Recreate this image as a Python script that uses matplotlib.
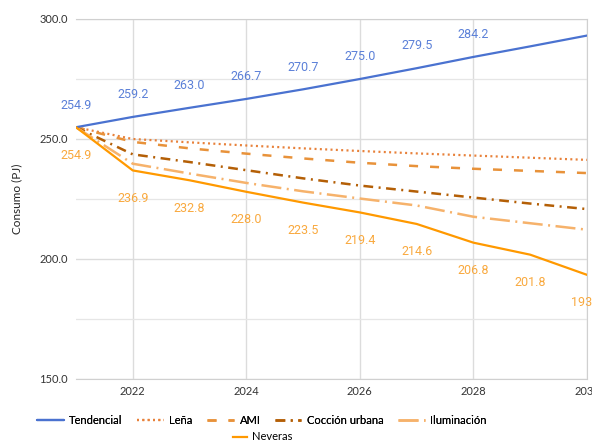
import matplotlib
matplotlib.use("Agg")
import matplotlib.pyplot as plt

years = [2021, 2022, 2023, 2024, 2025, 2026, 2027, 2028, 2029, 2030]
tendencial = [254.9, 259.2, 263.0, 266.7, 270.7, 275.0, 279.5, 284.2, 288.6, 293.1]
lena = [254.9, 250.0, 248.6, 247.3, 246.1, 245.0, 244.0, 243.1, 242.2, 241.3]
ami = [254.9, 248.8, 246.1, 243.9, 241.9, 240.1, 238.7, 237.6, 236.7, 235.8]
coccion = [254.9, 243.6, 240.4, 237.0, 233.6, 230.6, 228.1, 225.6, 223.1, 220.8]
iluminacion = [254.9, 239.7, 235.6, 231.7, 228.2, 225.2, 222.3, 217.6, 214.9, 212.2]
neveras = [254.9, 236.9, 232.8, 228.0, 223.5, 219.4, 214.6, 206.8, 201.8, 193.4]
tendencial_labels = ["254.9", "259.2", "263.0", "266.7", "270.7", "275.0", "279.5", "284.2"]
neveras_labels = ["254.9", "236.9", "232.8", "228.0", "223.5", "219.4", "214.6", "206.8", "201.8", "193.4"]
xticks = [2022, 2024, 2026, 2028, 2030]
yticks = [150, 200, 250, 300]

fig = plt.figure(figsize=(5.92, 4.43), dpi=100)
ax = fig.add_axes([76/592, 1-379/443, (587-76)/592, (379-19)/443])

c_tend = "#4a72d0"
c_lena = "#e8813a"
c_ami = "#e8923a"
c_coc = "#b45f06"
c_ilu = "#f6b26b"
c_nev = "#ff9900"

l_tend, = ax.plot(years, tendencial, color=c_tend, lw=1.6, solid_capstyle="round", label="Tendencial", zorder=5)
l_lena, = ax.plot(years, lena, color=c_lena, lw=1.6, dashes=(0.9, 1.5), label="Leña", zorder=4)
l_ami, = ax.plot(years, ami, color=c_ami, lw=1.8, dashes=(3.6, 4.8), label="AMI", zorder=4)
l_coc, = ax.plot(years, coccion, color=c_coc, lw=1.8, dashes=(3.9, 2.2, 0.8, 2.2), label="Cocción urbana", zorder=4)
l_ilu, = ax.plot(years, iluminacion, color=c_ilu, lw=1.8, dashes=(8, 2.2, 0.8, 2.2), label="Iluminación", zorder=4)
l_nev, = ax.plot(years, neveras, color=c_nev, lw=1.6, label="Neveras", zorder=5)

for x, y, t in zip(years, tendencial, tendencial_labels):
    ax.annotate(t, (x, y), xytext=(0, 16), textcoords="offset points", ha="center", va="center",
                fontsize=9, color="#5b80d8", family="Roboto", annotation_clip=False)
for x, y, t in zip(years, neveras, neveras_labels):
    ax.annotate(t, (x, y), xytext=(0, -20), textcoords="offset points", ha="center", va="center",
                fontsize=9, color="#f9a93e", family="Roboto", annotation_clip=False)

ax.set_xlim(2021, 2030)
ax.set_ylim(150, 300)
ax.set_xticks(xticks)
ax.set_yticks(yticks)
ax.set_yticks([175, 225, 275], minor=True)
ax.set_yticklabels([f"{v:.1f}" for v in yticks])
ax.grid(True, which="major", color="#dcdcdc", lw=1.0, zorder=0)
ax.grid(True, which="minor", axis="y", color="#e6e6e6", lw=0.9, zorder=0)
ax.tick_params(axis="both", which="both", length=0, labelsize=8, labelcolor="#333333")
ax.tick_params(axis="x", pad=5)
ax.tick_params(axis="y", pad=6)
for lab in ax.get_xticklabels() + ax.get_yticklabels():
    lab.set_family("Lato")
ax.spines["left"].set_visible(False)
for s in ["top", "right", "bottom"]:
    ax.spines[s].set_color("#d0d0d0")
ax.set_ylabel("Consumo (PJ)", fontsize=8.5, family="Lato", color="#222222", labelpad=12)

leg1 = fig.legend(handles=[l_tend, l_lena, l_ami, l_coc, l_ilu], loc="center", bbox_to_anchor=(262/592, 1-420/443),
                  ncol=5, frameon=False, prop={"family": "Lato", "size": 8}, handlelength=2.4,
                  columnspacing=1.3, handletextpad=0.5, borderaxespad=0)
leg2 = fig.legend(handles=[l_nev], loc="center", bbox_to_anchor=(263/592, 1-437/443),
                  frameon=False, prop={"family": "Lato", "size": 8}, handlelength=1.2,
                  handletextpad=0.5, borderaxespad=0)
fig.add_artist(leg1)

fig.savefig("out.png", dpi=100)
